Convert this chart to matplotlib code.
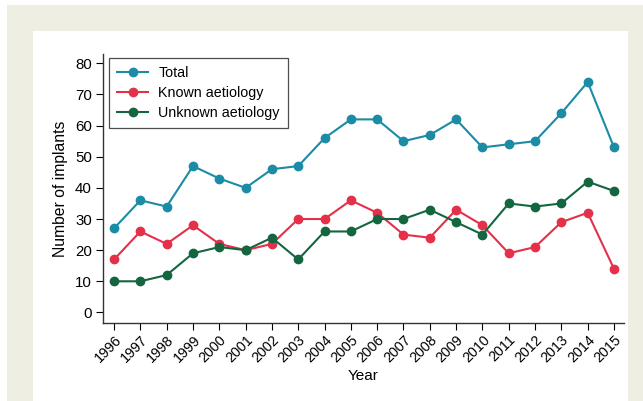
import matplotlib
matplotlib.use("Agg")
from matplotlib import pyplot as plt
from matplotlib.patches import Rectangle

years = list(range(1996, 2016))
total = [27, 36, 34, 47, 43, 40, 46, 47, 56, 62, 62, 55, 57, 62, 53, 54, 55, 64, 74, 53]
known = [17, 26, 22, 28, 22, 20, 22, 30, 30, 36, 32, 25, 24, 33, 28, 19, 21, 29, 32, 14]
unknown = [10, 10, 12, 19, 21, 20, 24, 17, 26, 26, 30, 30, 33, 29, 25, 35, 34, 35, 42, 39]

plt.rcParams["font.family"] = ["Liberation Sans", "DejaVu Sans"]

fig = plt.figure(figsize=(6.43, 4.01), dpi=100)
fig.patch.set_facecolor("white")
# beige page frame and white panel behind the chart
fig.patches.append(Rectangle((7 / 643, 0), 1, 1 - 5 / 401, transform=fig.transFigure,
                             facecolor="#eeeee3", edgecolor="none", zorder=-2))
fig.patches.append(Rectangle((33 / 643, 0), (628 - 33) / 643, (401 - 31) / 401,
                             transform=fig.transFigure, facecolor="white",
                             edgecolor="none", zorder=-1))

ax = fig.add_axes([103 / 643, 1 - 322.7 / 401, (624 - 103) / 643, (322.7 - 54) / 401])
ax.set_facecolor("white")

ax.plot(years, total, color="#1b8ba6", marker="o", markersize=6, linewidth=1.5, label="Total")
ax.plot(years, known, color="#e5304a", marker="o", markersize=6, linewidth=1.5, label="Known aetiology")
ax.plot(years, unknown, color="#13663f", marker="o", markersize=6, linewidth=1.5, label="Unknown aetiology")

ax.set_xlim(1995.58, 2015.38)
ax.set_ylim(-3.3, 83)
ax.set_xticks(years)
ax.set_xticklabels([str(y) for y in years], rotation=45, ha="right", rotation_mode="anchor", fontsize=10.3)
ax.set_yticks(range(0, 81, 10))
ax.tick_params(axis="y", labelsize=10.8, length=5, width=0.8, pad=3)
ax.tick_params(axis="x", length=5, width=0.8, pad=2)

for side in ["top", "right"]:
    ax.spines[side].set_visible(False)
for side in ["left", "bottom"]:
    ax.spines[side].set_linewidth(1.0)
    ax.spines[side].set_color("#333333")

ax.set_xlabel("Year", fontsize=11, labelpad=3)
ax.set_ylabel("Number of implants", fontsize=11.3, labelpad=5)

leg = ax.legend(loc="upper left", bbox_to_anchor=(0.0115, 0.985), borderaxespad=0,
                fontsize=10.3, frameon=True, fancybox=False, edgecolor="#222222",
                handlelength=2.2, borderpad=0.55, labelspacing=0.43, handletextpad=0.7)
leg.get_frame().set_linewidth(0.9)

fig.savefig("out.png", dpi=100)
